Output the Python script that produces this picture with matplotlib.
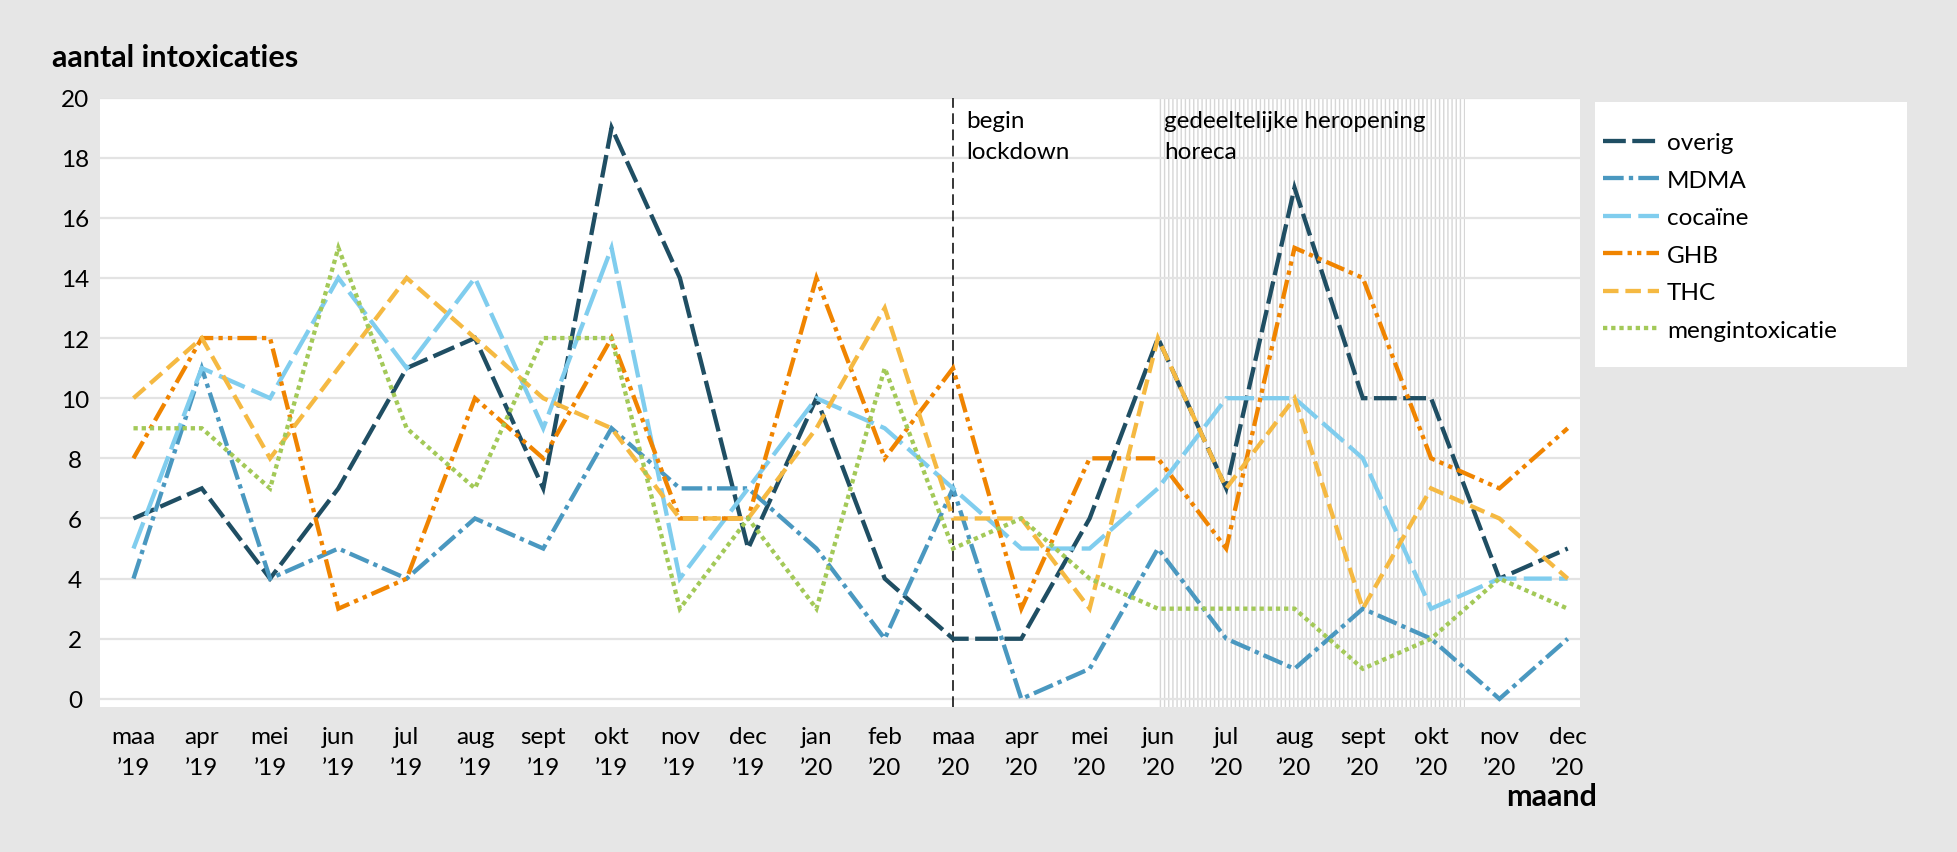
import matplotlib
matplotlib.use("Agg")
import matplotlib.pyplot as plt
from matplotlib.patches import Rectangle

# ---- data ----
months = ["maa", "apr", "mei", "jun", "jul", "aug", "sept", "okt", "nov", "dec",
          "jan", "feb", "maa", "apr", "mei", "jun", "jul", "aug", "sept", "okt", "nov", "dec"]
years = ["\u201919"] * 10 + ["\u201920"] * 12
overig = [6, 7, 4, 7, 11, 12, 7, 19, 14, 5, 10, 4, 2, 2, 6, 12, 7, 17, 10, 10, 4, 5]
mdma = [4, 11, 4, 5, 4, 6, 5, 9, 7, 7, 5, 2, 7, 0, 1, 5, 2, 1, 3, 2, 0, 2]
cocaine = [5, 11, 10, 14, 11, 14, 9, 15, 4, 7, 10, 9, 7, 5, 5, 7, 10, 10, 8, 3, 4, 4]
ghb = [8, 12, 12, 3, 4, 10, 8, 12, 6, 6, 14, 8, 11, 3, 8, 8, 5, 15, 14, 8, 7, 9]
thc = [10, 12, 8, 11, 14, 12, 10, 9, 6, 6, 9, 13, 6, 6, 3, 12, 7, 10, 3, 7, 6, 4]
meng = [9, 9, 7, 15, 9, 7, 12, 12, 3, 6, 3, 11, 5, 6, 4, 3, 3, 3, 1, 2, 4, 3]
series_names = ["overig", "MDMA", "coca\u00efne", "GHB", "THC", "mengintoxicatie"]
yticks = [0, 2, 4, 6, 8, 10, 12, 14, 16, 18, 20]
lockdown_idx = 12
reopen_start, reopen_end = 15, 19.5

plt.rcParams["font.family"] = ["Lato", "DejaVu Sans"]
plt.rcParams["hatch.linewidth"] = 1.0

W, H = 1958, 853
fig = plt.figure(figsize=(W / 100, H / 100), dpi=100, facecolor="#e6e6e6")

def fx(px):
    return px / W

def fy(py):
    return 1 - py / H

ax = fig.add_axes([fx(100), fy(708), fx(1580) - fx(100), fy(98.5) - fy(708)])
ax.set_facecolor("white")
for s in ax.spines.values():
    s.set_visible(False)

x = list(range(len(months)))
styles = [
    (overig, "#1f4e63", (0, (5.3, 1.5))),
    (mdma, "#4a98c0", (0, (4.8, 1.2, 1.0, 1.2))),
    (cocaine, "#80cdee", (0, (6.5, 1.7))),
    (ghb, "#f08400", (0, (4.5, 1.2, 1.0, 1.2, 1.0, 1.2))),
    (thc, "#f5b942", (0, (3.6, 1.6))),
    (meng, "#a3c958", (0, (1.0, 0.9))),
]
for (vals, col, ls), name in zip(styles, series_names):
    ax.plot(x, vals, color=col, lw=3.1, linestyle=ls, label=name, zorder=3,
            solid_joinstyle="miter", dash_joinstyle="miter")

ax.set_xlim(-0.49, 21.18)
ax.set_ylim(-0.27, 20)
ax.set_yticks(yticks)
ax.set_yticklabels([str(v) for v in yticks])
ax.set_xticks(x)
ax.set_xticklabels([f"{m}\n{y}" for m, y in zip(months, years)])
ax.tick_params(axis="both", length=0, labelsize=17.5, colors="black")
ax.tick_params(axis="y", pad=18)
ax.tick_params(axis="x", pad=14)
for lab in ax.get_yticklabels():
    lab.set_horizontalalignment("center")
for lab in ax.get_xticklabels():
    lab.set_linespacing(1.58)

ax.set_axisbelow("line")
ax.yaxis.grid(True, color="#e3e3e3", lw=1.6)
ax.xaxis.grid(False)

# reopening shaded region
ax.axvspan(reopen_start, reopen_end, facecolor="white", edgecolor="#d6d6d6",
           hatch="||||", linewidth=0, zorder=0.3)

# lockdown line
ax.axvline(lockdown_idx, color="black", lw=1.1, linestyle=(0, (7, 3.6)), zorder=2)

ax.annotate("begin\nlockdown", xy=(lockdown_idx, 1), xycoords=("data", "axes fraction"),
            xytext=(13, -13), textcoords="offset pixels", ha="left", va="top",
            fontsize=17.5, linespacing=1.56)
ax.annotate("gedeeltelijke heropening\nhoreca", xy=(reopen_start, 1),
            xycoords=("data", "axes fraction"),
            xytext=(6, -13), textcoords="offset pixels", ha="left", va="top",
            fontsize=17.5, linespacing=1.56)

# titles
fig.text(fx(52), fy(67), "aantal intoxicaties", fontsize=22, fontweight="bold",
         ha="left", va="baseline")
fig.text(fx(1597), fy(806), "maand", fontsize=22, fontweight="bold",
         ha="right", va="baseline")

# legend
fig.patches.append(Rectangle((fx(1595), fy(368)), fx(1907) - fx(1595), fy(103) - fy(368),
                             transform=fig.transFigure, facecolor="white",
                             edgecolor="none", zorder=0))
handles, labels = ax.get_legend_handles_labels()
fig.legend(handles, labels, loc="upper left", bbox_to_anchor=(fx(1603), fy(133)),
           bbox_transform=fig.transFigure, frameon=False, fontsize=17.5,
           borderpad=0, borderaxespad=0, handlelength=2.3, handletextpad=0.33,
           labelspacing=0.68)

fig.savefig("out.png", dpi=100, facecolor=fig.get_facecolor())
